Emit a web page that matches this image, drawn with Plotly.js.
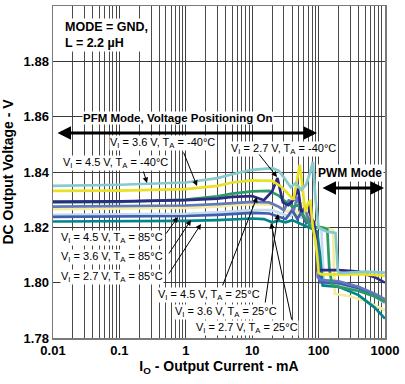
<!DOCTYPE html>
<html>
<head>
<meta charset="utf-8">
<script src="https://cdn.plot.ly/plotly-3.0.1.min.js"></script>
<style>html,body{margin:0;padding:0;background:#fff;}#chart{width:405px;height:384px;}</style>
</head>
<body>
<div id="chart"></div>
<script>
// ---- data (I in mA, V in volts) ----
const cyanI   = [0.01, 0.1, 1, 3, 5, 10, 20, 25, 30, 38, 45, 55, 65, 75, 82, 90, 100, 130, 180, 195, 210, 300, 500, 1000];
const cyanV   = [1.8350, 1.8354, 1.8362, 1.8378, 1.8392, 1.8408, 1.8414, 1.8405, 1.8380, 1.8345, 1.8360, 1.8335, 1.8355, 1.8400, 1.8437, 1.8300, 1.8200, 1.8185, 1.8180, 1.8040, 1.8035, 1.8036, 1.8040, 1.8036];
const yellowI = [0.01, 0.1, 1, 3, 5, 10, 20, 28, 35, 42, 48, 52, 57, 63, 70, 75, 82, 90, 95, 100, 110, 200, 500, 1000];
const yellowV = [1.8332, 1.8333, 1.8338, 1.8350, 1.8362, 1.8370, 1.8368, 1.8345, 1.8320, 1.8300, 1.8380, 1.8426, 1.8350, 1.8255, 1.8290, 1.8295, 1.8200, 1.8150, 1.8100, 1.8035, 1.8030, 1.8030, 1.8030, 1.8025];
const navyI   = [0.01, 0.1, 1, 3, 5, 10, 15, 20, 24, 29, 35, 42, 49, 55, 62, 70, 78, 85, 92, 97, 105, 200, 400, 700, 1000];
const navyV   = [1.8293, 1.8294, 1.8298, 1.8304, 1.8310, 1.8313, 1.8298, 1.8330, 1.8378, 1.8290, 1.8280, 1.8300, 1.8340, 1.8255, 1.8270, 1.8280, 1.8230, 1.8220, 1.8150, 1.8045, 1.8045, 1.8045, 1.8040, 1.8020, 1.8000];
const greenI  = [0.01, 0.1, 1, 3, 5, 10, 18, 25, 30, 41, 50, 60, 75, 90, 110, 135, 145, 160, 200, 400, 700, 1000];
const greenV  = [1.8290, 1.8292, 1.8300, 1.8312, 1.8322, 1.8330, 1.8332, 1.8315, 1.8298, 1.8274, 1.8280, 1.8240, 1.8205, 1.8200, 1.8200, 1.8195, 1.8050, 1.7990, 1.7985, 1.7970, 1.7950, 1.7930];
const blueI   = [0.01, 0.1, 1, 3, 5, 10, 18, 25, 30, 36, 42, 48, 55, 62, 70, 80, 90, 97, 105, 200, 400, 700, 1000];
const blueV   = [1.8275, 1.8276, 1.8279, 1.8284, 1.8288, 1.8292, 1.8290, 1.8275, 1.8262, 1.8300, 1.8260, 1.8310, 1.8250, 1.8270, 1.8230, 1.8230, 1.8180, 1.8020, 1.8010, 1.8005, 1.7985, 1.7960, 1.7940];
const lyellowI = [0.01, 0.1, 1, 3, 5, 10, 20, 28, 35, 42, 50, 58, 66, 75, 85, 100, 120, 150, 165, 175, 300, 500, 1000];
const lyellowV = [1.8266, 1.8267, 1.8270, 1.8275, 1.8280, 1.8284, 1.8282, 1.8268, 1.8255, 1.8270, 1.8245, 1.8290, 1.8240, 1.8250, 1.8220, 1.8205, 1.8200, 1.8195, 1.8190, 1.7960, 1.7950, 1.7935, 1.7900];
const lblueI  = [0.01, 0.1, 1, 3, 5, 10, 20, 28, 35, 45, 55, 62, 70, 80, 95, 110, 120, 200, 400, 700, 1000];
const lblueV  = [1.8245, 1.8246, 1.8249, 1.8254, 1.8258, 1.8262, 1.8262, 1.8250, 1.8240, 1.8250, 1.8235, 1.8265, 1.8230, 1.8215, 1.8200, 1.8195, 1.8000, 1.7995, 1.7975, 1.7950, 1.7925];
const blue2I  = [0.01, 0.1, 1, 3, 5, 10, 18, 25, 32, 40, 48, 55, 65, 75, 85, 95, 105, 200, 400, 700, 1000];
const blue2V  = [1.8238, 1.8239, 1.8241, 1.8245, 1.8249, 1.8252, 1.8250, 1.8238, 1.8230, 1.8262, 1.8230, 1.8255, 1.8215, 1.8225, 1.8200, 1.8150, 1.8002, 1.7998, 1.7980, 1.7955, 1.7935];
const tealI   = [0.01, 0.1, 1, 3, 5, 10, 15, 20, 25, 32, 40, 50, 60, 70, 80, 95, 105, 115, 200, 400, 700, 1000];
const tealV   = [1.8221, 1.8221, 1.8223, 1.8226, 1.8229, 1.8232, 1.8230, 1.8218, 1.8224, 1.8218, 1.8226, 1.8215, 1.8205, 1.8200, 1.8195, 1.8185, 1.8100, 1.7990, 1.7985, 1.7955, 1.7910, 1.7870];

const xTickVals = [0.01, 0.1, 1, 10, 100, 1000];
const xTickText = ['0.01', '0.1', '1', '10', '100', '1000'];
const yTickVals = [1.78, 1.80, 1.82, 1.84, 1.86, 1.88, 1.90];

const seriesList = [
  {I: lblueI, V: lblueV, c: '#c6dbee'},
  {I: lyellowI, V: lyellowV, c: '#f1eda2'},
  {I: tealI, V: tealV, c: '#00868a'},
  {I: blue2I, V: blue2V, c: '#3f5eab'},
  {I: blueI, V: blueV, c: '#6378bd'},
  {I: greenI, V: greenV, c: '#2a9a66'},
  {I: navyI, V: navyV, c: '#2b2a84'},
  {I: yellowI, V: yellowV, c: '#e9e126'},
  {I: cyanI, V: cyanV, c: '#86cacd'}
];

const traces = seriesList.map(s => ({
  x: s.I, y: s.V, type: 'scatter', mode: 'lines',
  line: {color: s.c, width: 2.7}, hoverinfo: 'skip', showlegend: false
}));

// plot-area pixel helpers (for annotation placement only)
const L = 53, T = 6, W = 332, H = 332;
const X = px => -2 + (px - L) / W * 5;
const Y = py => 1.90 - (py - T) / H * 0.12;

const lab = (t, cx, cy) => ({x: X(cx), y: Y(cy), xref: 'x', yref: 'y', text: t, showarrow: false,
  font: {family: 'Liberation Sans, Arial, sans-serif', size: 11, color: '#000'},
  bgcolor: '#fff', borderpad: 0, xanchor: 'center', yanchor: 'middle'});
const arr = (tx, ty, hx, hy) => ({x: X(hx), y: Y(hy), ax: X(tx), ay: Y(ty), xref: 'x', yref: 'y', axref: 'x', ayref: 'y',
  text: '', showarrow: true, arrowhead: 2, arrowsize: 1.1, arrowwidth: 1, arrowcolor: '#000'});
const VI = v => 'V<sub>I</sub> = ' + v + ' V, T<sub>A</sub> = ';

const annotations = [
  {x: X(63), y: Y(35), xref: 'x', yref: 'y', text: 'MODE = GND,<br>L = 2.2 µH', showarrow: false, align: 'left',
   xanchor: 'left', yanchor: 'middle', bgcolor: '#fff', borderpad: 1,
   font: {family: 'Liberation Sans, Arial, sans-serif', size: 12.5, color: '#000', weight: 'bold'}},
  {x: X(178), y: Y(118), xref: 'x', yref: 'y', text: 'PFM Mode, Voltage Positioning On', showarrow: false,
   bgcolor: '#fff', borderpad: 0, font: {family: 'Liberation Sans, Arial, sans-serif', size: 11.5, color: '#000', weight: 'bold'}},
  {x: X(350), y: Y(173), xref: 'x', yref: 'y', text: 'PWM Mode', showarrow: false,
   bgcolor: '#fff', borderpad: 1, font: {family: 'Liberation Sans, Arial, sans-serif', size: 12, color: '#000', weight: 'bold'}},
  {x: X(317), y: Y(133), ax: X(56), ay: Y(133), xref: 'x', yref: 'y', axref: 'x', ayref: 'y', text: '',
   showarrow: true, arrowhead: 2, arrowside: 'end+start', arrowsize: 0.9, arrowwidth: 3, arrowcolor: '#000'},
  {x: X(384), y: Y(188), ax: X(321), ay: Y(188), xref: 'x', yref: 'y', axref: 'x', ayref: 'y', text: '',
   showarrow: true, arrowhead: 2, arrowside: 'end+start', arrowsize: 0.9, arrowwidth: 3, arrowcolor: '#000'},
  lab(VI('3.6') + '-40°C', 162.5, 143),
  lab(VI('4.5') + '-40°C', 115, 163),
  lab(VI('2.7') + '-40°C', 283, 149),
  lab(VI('4.5') + '85°C', 112, 238),
  lab(VI('3.6') + '85°C', 112, 257),
  lab(VI('2.7') + '85°C', 112, 277),
  lab(VI('4.5') + '25°C', 208.5, 295),
  lab(VI('3.6') + '25°C', 226, 312),
  lab(VI('2.7') + '25°C', 246.5, 328),
  arr(183, 151, 197, 186),
  arr(143, 170, 147, 183),
  arr(258, 153, 277, 177),
  arr(165, 235, 178, 217),
  arr(168, 255, 191, 220),
  arr(168, 275, 201, 224),
  arr(222, 287, 257, 197),
  arr(265, 304, 278, 214),
  arr(292, 321, 271, 223)
];

const layout = {
  width: 405, height: 384,
  margin: {l: L, r: 405 - L - W, t: T, b: 384 - T - H},
  paper_bgcolor: '#fff', plot_bgcolor: '#fff',
  showlegend: false,
  font: {family: 'Liberation Sans, Arial, sans-serif', color: '#000'},
  xaxis: {
    type: 'log', range: [-2, 3], tickvals: xTickVals, ticktext: xTickText, ticks: '',
    showgrid: true, gridcolor: '#404040', gridwidth: 1, zeroline: false,
    minor: {dtick: 'D1', showgrid: true, gridcolor: '#4a4a4a', gridwidth: 1, ticks: ''},
    showline: true, linecolor: '#7a7a7a', linewidth: 1.5, mirror: true,
    tickfont: {size: 13, weight: 'bold'},
    title: {text: 'I<sub>O</sub> - Output Current - mA', font: {size: 14, weight: 'bold'}, standoff: 4}
  },
  yaxis: {
    range: [1.78, 1.90], tickvals: yTickVals, tickformat: '.2f', ticks: '',
    showgrid: true, gridcolor: '#3a3a3a', gridwidth: 1, zeroline: false,
    showline: true, linecolor: '#7a7a7a', linewidth: 1.5, mirror: true,
    tickfont: {size: 13, weight: 'bold'},
    title: {text: 'DC Output Voltage - V', font: {size: 14, weight: 'bold'}, standoff: 6}
  },
  annotations: annotations
};

Plotly.newPlot('chart', traces, layout, {staticPlot: true, displayModeBar: false});
</script>
</body>
</html>
